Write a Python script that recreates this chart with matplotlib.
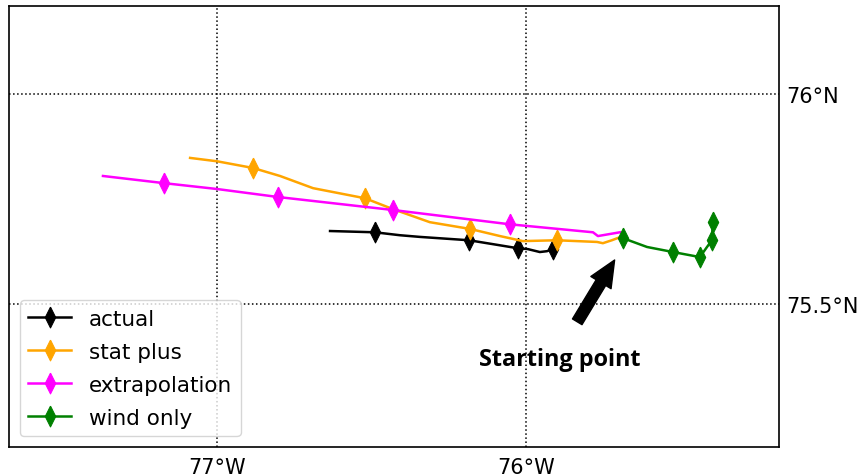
import matplotlib
matplotlib.use("Agg")
import matplotlib.pyplot as plt
from matplotlib.ticker import FixedLocator, FuncFormatter

# ---- data (lon, lat) ----
actual_lon = [-76.634, -76.489, -76.408, -76.343, -76.184, -76.084, -76.026, -75.994, -75.955, -75.932, -75.913]
actual_lat = [75.674, 75.671, 75.664, 75.660, 75.652, 75.640, 75.633, 75.631, 75.624, 75.626, 75.631]
actual_marks = [1, 4, 6, 10]

statplus_lon = [-77.087, -77.000, -76.883, -76.796, -76.689, -76.521, -76.430, -76.311, -76.181, -76.084,
                -76.010, -75.900, -75.770, -75.751, -75.722, -75.686]
statplus_lat = [75.848, 75.840, 75.824, 75.805, 75.776, 75.752, 75.726, 75.695, 75.679, 75.662,
                75.650, 75.652, 75.648, 75.645, 75.652, 75.662]
statplus_marks = [2, 5, 8, 11]

extrap_lon = [-77.369, -77.172, -77.000, -76.803, -76.430, -76.052, -75.783, -75.767, -75.696]
extrap_lat = [75.805, 75.788, 75.774, 75.755, 75.724, 75.690, 75.671, 75.662, 75.671]
extrap_marks = [1, 3, 4, 5]

wind_lon = [-75.686, -75.608, -75.524, -75.437, -75.414, -75.398, -75.395]
wind_lat = [75.657, 75.636, 75.624, 75.612, 75.636, 75.652, 75.695]
wind_marks = [0, 2, 3, 5, 6]

lon_ticks = [-77, -76]
lat_ticks = [75.5, 76]
start_point = (-75.713, 75.605)
arrow_tail = (-75.834, 75.458)
label_pos = (-75.890, 75.369)
label_text = "Starting point"

fig = plt.figure(figsize=(8.6, 4.77), dpi=100)
ax = fig.add_axes([0.0105, 0.0608, 0.8953, 0.9245])
ax.set_xlim(-77.673, -75.181)
ax.set_ylim(75.160, 76.2095)

diamond = [(0, 1), (0.5, 0), (0, -1), (-0.5, 0), (0, 1)]
common = dict(marker=diamond, markersize=15, markeredgewidth=0.8, linewidth=1.8)
ax.plot(actual_lon, actual_lat, color='black', markevery=actual_marks, label='actual', **common)
ax.plot(statplus_lon, statplus_lat, color='orange', markevery=statplus_marks, label='stat plus', **common)
ax.plot(extrap_lon, extrap_lat, color='magenta', markevery=extrap_marks, label='extrapolation', **common)
ax.plot(wind_lon, wind_lat, color='green', markevery=wind_marks, label='wind only', **common)

ax.xaxis.set_major_locator(FixedLocator(lon_ticks))
ax.yaxis.set_major_locator(FixedLocator(lat_ticks))
ax.xaxis.set_major_formatter(FuncFormatter(lambda v, p: f"{abs(v):g}°W"))
ax.yaxis.set_major_formatter(FuncFormatter(lambda v, p: f"{v:g}°N"))
ax.yaxis.tick_right()
ax.tick_params(length=0, labelsize=15)
ax.tick_params(axis='x', pad=7)
ax.tick_params(axis='y', pad=5)
ax.grid(True, color='black', linestyle=':', linewidth=1.1)
for s in ax.spines.values():
    s.set_linewidth(1.2)

ax.annotate("", xy=start_point, xytext=arrow_tail,
            arrowprops=dict(facecolor='black', edgecolor='black', width=8, headwidth=17, headlength=19, shrink=0))
ax.text(label_pos[0], label_pos[1], label_text, fontsize=16.8, fontweight='bold',
        family=['Open Sans', 'DejaVu Sans'], ha='center', va='center')

leg = ax.legend(loc='lower left', fontsize=15.5, handlelength=2.0, labelspacing=0.6)

fig.savefig('out.png', dpi=100)
